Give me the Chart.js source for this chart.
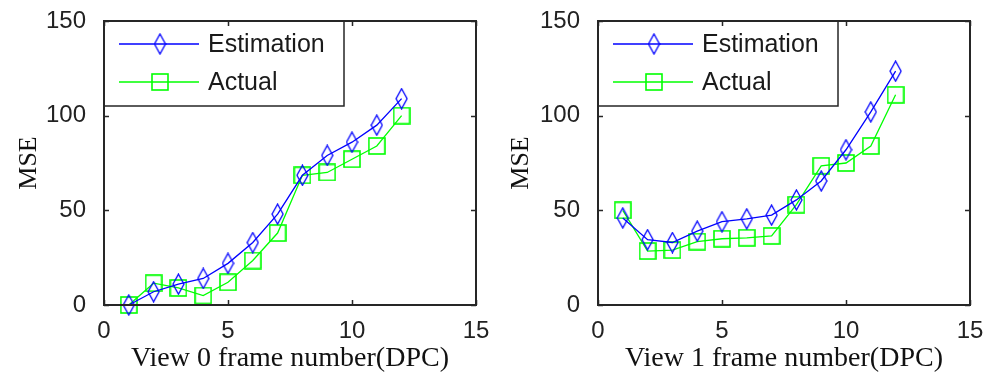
<!DOCTYPE html>
<html>
<head>
<meta charset="utf-8">
<script src="https://cdn.jsdelivr.net/npm/chart.js@4.4.1/dist/chart.umd.min.js"></script>
<style>
  html, body { margin: 0; padding: 0; background: #fff; }
  #wrap { position: relative; width: 984px; height: 379px; }
  .box { position: absolute; top: 0; width: 492px; height: 379px; }
</style>
</head>
<body>
<div id="wrap">
  <div class="box" style="left:0"><canvas id="chart0"></canvas></div>
  <div class="box" style="left:492px"><canvas id="chart1"></canvas></div>
</div>
<script>
// frame numbers (x) and MSE values
const frames = [1, 2, 3, 4, 5, 6, 7, 8, 9, 10, 11, 12];
const estView0 = [0, 7, 11, 14, 22, 33, 48, 68.5, 79, 86, 95, 109];
const actView0 = [0, 11.5, 9, 5, 12, 23.5, 38, 68.5, 70, 77, 84, 100];
const estView1 = [46, 34.5, 33, 39, 44, 45.5, 47.5, 55.5, 65.5, 82, 102, 123.5];
const actView1 = [50, 28.5, 29, 33.5, 35, 35.5, 36.5, 53, 73.5, 75, 84, 111];
const xTicks = [0, 5, 10, 15];
const yTicks = [0, 50, 100, 150];
const seriesNames = ["Estimation", "Actual"];
const xTitles = ["View 0 frame number(DPC)", "View 1 frame number(DPC)"];
const yTitle = "MSE";

const BLUE = "#0000ff";
const GREEN = "#00ff00";
const AXIS = "#262626";

function makeDiamond() {
  const c = document.createElement("canvas");
  c.width = 13; c.height = 22;
  const g = c.getContext("2d");
  g.strokeStyle = BLUE; g.lineWidth = 1.3;
  g.beginPath();
  g.moveTo(6.5, 1); g.lineTo(12, 11); g.lineTo(6.5, 21); g.lineTo(1, 11);
  g.closePath(); g.stroke();
  return c;
}

function makeSquare() {
  const c = document.createElement("canvas");
  c.width = 18; c.height = 18;
  const g = c.getContext("2d");
  g.strokeStyle = GREEN; g.lineWidth = 1.6;
  g.strokeRect(1, 1, 16, 16);
  return c;
}

const diamondImg = makeDiamond();
const squareImg = makeSquare();

function toPoints(vals) {
  return frames.map((f, i) => ({ x: f, y: vals[i] }));
}

// box around the plot with inward ticks, matlab style
const boxTicks = {
  id: "boxTicks",
  afterDraw(chart) {
    const { ctx, chartArea: a, scales } = chart;
    ctx.save();
    ctx.strokeStyle = AXIS;
    ctx.lineWidth = 1.5;
    ctx.beginPath();
    yTicks.forEach((v) => {
      const py = Math.round(scales.y.getPixelForValue(v)) + 0.5;
      ctx.moveTo(a.left, py); ctx.lineTo(a.left + 5, py);
      ctx.moveTo(a.right, py); ctx.lineTo(a.right - 5, py);
    });
    xTicks.forEach((v) => {
      const px = Math.round(scales.x.getPixelForValue(v)) + 0.5;
      ctx.moveTo(px, a.bottom); ctx.lineTo(px, a.bottom - 5);
      ctx.moveTo(px, a.top); ctx.lineTo(px, a.top + 5);
    });
    ctx.stroke();
    ctx.lineWidth = 2;
    ctx.strokeRect(a.left, a.top, a.right - a.left, a.bottom - a.top);
    ctx.restore();
  },
};

// legend box drawn inside the top-left corner of the plot
const boxLegend = {
  id: "boxLegend",
  afterDatasetsDraw(chart) {
    const { ctx, chartArea: a } = chart;
    const w = 240, h = 85;
    ctx.save();
    ctx.fillStyle = "#fff";
    ctx.fillRect(a.left, a.top, w, h);
    ctx.strokeStyle = AXIS;
    ctx.lineWidth = 1.5;
    ctx.strokeRect(a.left, a.top, w, h);
    const rows = [
      { y: a.top + 23, color: BLUE, img: diamondImg },
      { y: a.top + 61, color: GREEN, img: squareImg },
    ];
    ctx.font = "25px 'Liberation Sans', Arial, sans-serif";
    ctx.textBaseline = "middle";
    rows.forEach((r, i) => {
      ctx.strokeStyle = r.color;
      ctx.lineWidth = 1.3;
      ctx.beginPath();
      ctx.moveTo(a.left + 15, r.y); ctx.lineTo(a.left + 95, r.y);
      ctx.stroke();
      ctx.drawImage(r.img, a.left + 56 - r.img.width / 2, r.y - r.img.height / 2);
      ctx.fillStyle = "#1a1a1a";
      ctx.fillText(chart.data.datasets[i].label, a.left + 104, r.y + 1);
    });
    ctx.restore();
  },
};

function makeChart(id, est, act, xTitle, left, right) {
  const ctx = document.getElementById(id).getContext("2d");
  return new Chart(ctx, {
    type: "line",
    data: {
      datasets: [
        {
          label: seriesNames[0],
          data: toPoints(est),
          borderColor: BLUE,
          borderWidth: 1.3,
          pointStyle: diamondImg,
          clip: false,
        },
        {
          label: seriesNames[1],
          data: toPoints(act),
          borderColor: GREEN,
          borderWidth: 1.3,
          pointStyle: squareImg,
          clip: false,
        },
      ],
    },
    options: {
      responsive: true,
      maintainAspectRatio: false,
      animation: false,
      layout: { padding: { top: 21, right: 492 - right, left: 0, bottom: 0 } },
      plugins: { legend: { display: false }, tooltip: { enabled: false } },
      scales: {
        x: {
          type: "linear",
          min: 0,
          max: 15,
          afterBuildTicks: (s) => { s.ticks = xTicks.map((v) => ({ value: v })); },
          afterFit: (s) => { s.height = 74; s.paddingLeft = 0; s.paddingRight = 0; },
          grid: { display: false },
          border: { display: false },
          ticks: {
            padding: 4,
            color: "#222",
            font: { family: "'Liberation Sans', Arial, sans-serif", size: 24 },
          },
          title: {
            display: true,
            text: xTitle,
            color: "#111",
            font: { family: "'Liberation Serif', 'Times New Roman', serif", size: 28 },
            padding: { top: 0, bottom: 4 },
          },
        },
        y: {
          min: 0,
          max: 150,
          afterBuildTicks: (s) => { s.ticks = yTicks.map((v) => ({ value: v })); },
          afterFit: (s) => { s.width = left; s.paddingTop = 0; s.paddingBottom = 0; },
          grid: { display: false },
          border: { display: false },
          ticks: {
            padding: 10,
            color: "#222",
            font: { family: "'Liberation Sans', Arial, sans-serif", size: 24 },
          },
          title: {
            display: true,
            text: yTitle,
            color: "#111",
            font: { family: "'Liberation Serif', 'Times New Roman', serif", size: 26 },
            padding: { top: 14, bottom: 0 },
          },
        },
      },
    },
    plugins: [boxLegend, boxTicks],
  });
}

makeChart("chart0", estView0, actView0, xTitles[0], 104, 476);
makeChart("chart1", estView1, actView1, xTitles[1], 106, 478);
</script>
</body>
</html>
